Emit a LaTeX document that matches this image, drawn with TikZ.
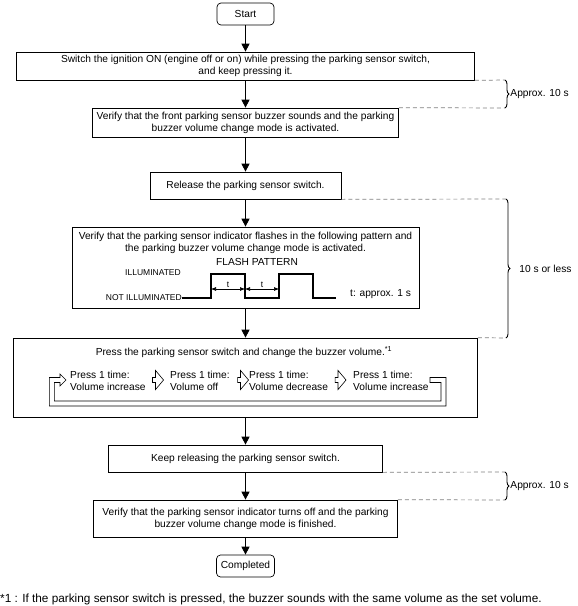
\documentclass[tikz,border=0pt]{standalone}
\usepackage{fontspec}
\setmainfont{Liberation Sans}
\usetikzlibrary{arrows.meta,decorations.pathreplacing,shapes.arrows}

\tikzset{
	box/.style={draw, line width=0.7pt, align=center, inner sep=0pt, font=\fontsize{10.2}{12}\selectfont},
	roundbox/.style={box, rounded corners=4pt},
	flow/.style={line width=0.9pt, -{Triangle[width=8pt,length=8pt]}},
	dashline/.style={gray, line width=0.7pt, dash pattern=on 4pt off 3pt},
	timebrace/.style={decorate, decoration={brace, amplitude=4pt}, line width=0.9pt},
	stepmark/.style={single arrow, draw, line width=0.6pt, minimum height=11pt, minimum width=10pt, inner sep=2.2pt, single arrow tip angle=100},
	small/.style={font=\fontsize{8.5}{10}\selectfont},
	txt/.style={font=\fontsize{10.2}{12}\selectfont, align=center, inner sep=0pt}
}

\begin{document}
\begin{tikzpicture}[x=1pt, y=-1pt]
\useasboundingbox (0,0) rectangle (578,606);

% main boxes
\node[roundbox, minimum width=57pt, minimum height=22pt] (start) at (245.5,14) {Start};
\node[box, minimum width=458pt, minimum height=28pt] (ign) at (245.5,66)
	{Switch the ignition ON (engine off or on) while pressing the parking sensor switch,\\ and keep pressing it.};
\node[box, minimum width=306pt, minimum height=29pt] (buzz) at (245.5,122.5)
	{Verify that the front parking sensor buzzer sounds and the parking\\ buzzer volume change mode is activated.};
\node[box, minimum width=191pt, minimum height=27pt] (release) at (245.5,185.5) {Release the parking sensor switch.};
\node[box, minimum width=347pt, minimum height=81pt] (flash) at (245.5,267.5) {};
\node[box, minimum width=464pt, minimum height=79pt] (press) at (245.5,377.5) {};
\node[box, minimum width=274pt, minimum height=27pt] (keep) at (245.5,458.5) {Keep releasing the parking sensor switch.};
\node[box, minimum width=304pt, minimum height=37pt] (finish) at (245.5,518.5)
	{Verify that the parking sensor indicator turns off and the parking\\ buzzer volume change mode is finished.};
\node[roundbox, minimum width=58pt, minimum height=22pt] (done) at (245.5,566) {Completed};

% flash pattern
\node[txt] (flashtxt) at (245.5,242.5)
	{Verify that the parking sensor indicator flashes in the following pattern and\\ the parking buzzer volume change mode is activated.};
\node[txt] (pattern) at (257,262) {FLASH PATTERN};
\node[small, anchor=east, inner sep=0pt] (illum) at (181,273) {ILLUMINATED};
\node[small, anchor=east, inner sep=0pt] (notillum) at (182,298) {NOT ILLUMINATED};
\draw[line width=1.3pt] (notillum.east) -- (211,298) -- (211,274) -- (245,274) -- (245,298)
	-- (279,298) -- (279,274) -- (313,274) -- (313,298) -- (336,298);
\draw[{Latex[length=5pt,width=4pt]}-{Latex[length=5pt,width=4pt]}, line width=0.6pt]
	(211,289) -- node[small, above=1pt, inner sep=0pt] {t} (245,289);
\draw[{Latex[length=5pt,width=4pt]}-{Latex[length=5pt,width=4pt]}, line width=0.6pt]
	(245,289) -- node[small, above=1pt, inner sep=0pt] {t} (279,289);
\node[txt, anchor=west] (tval) at (350,294) {t: approx. 1 s};

% volume steps
\node[txt] (presstxt) at (244,352) {Press the parking sensor switch and change the buzzer volume.\textsuperscript{*1}};
\foreach \x/\what [count=\i] in {70/Volume increase, 170/Volume off, 249/Volume decrease, 353/Volume increase}
	\node[txt, anchor=west, align=left] (step\i) at (\x,381) {Press 1 time:\\ \what};
\foreach \x [count=\i] in {157,242,339.5}
	\node[stepmark] (mark\i) at (\x,380) {};
\draw[line width=0.6pt] (430,377.5) -- (446,377.5) -- (446,406) -- (49.3,406) -- (49.3,377.5)
	-- (60,377.5) -- (60,374) -- (66,380) -- (60,386) -- (60,382.5) -- (54.3,382.5)
	-- (54.3,401) -- (441,401) -- (441,382.5) -- (430,382.5) -- cycle;

% connectors
\draw[flow] (start.south) -- (ign.north);
\draw[flow] (ign.south) -- (buzz.north);
\draw[flow] (buzz.south) -- (release.north);
\draw[flow] (release.south) -- (flash.north);
\draw[flow] (flash.south) -- (press.north);
\draw[flow] (press.south) -- (keep.north);
\draw[flow] (keep.south) -- (finish.north);
\draw[flow] (finish.south) -- (done.north);

% timing braces
\coordinate (t1) at (505,80);
\coordinate (b1) at (505,108);
\coordinate (t2) at (506,199);
\coordinate (b2) at (506,338);
\coordinate (t3) at (505,472);
\coordinate (b3) at (505,500);
\draw[dashline] (ign.south east) -- (t1);
\draw[dashline] (buzz.north east) -- (b1);
\draw[dashline] (release.south east) -- (t2);
\draw[dashline] (press.north east) -- (b2);
\draw[dashline] (keep.south east) -- (t3);
\draw[dashline] (finish.north east) -- (b3);
\draw[timebrace] (t1) -- node[txt, right=5pt] {Approx. 10 s} (b1);
\draw[timebrace] (t2) -- node[txt, right=13pt] {10 s or less} (b2);
\draw[timebrace] (t3) -- node[txt, right=5pt] {Approx. 10 s} (b3);

\node[anchor=west, inner sep=0pt, font=\fontsize{11.8}{13}\selectfont] (note) at (0,599)
	{*1 : If the parking sensor switch is pressed, the buzzer sounds with the same volume as the set volume.};
\end{tikzpicture}
\end{document}
